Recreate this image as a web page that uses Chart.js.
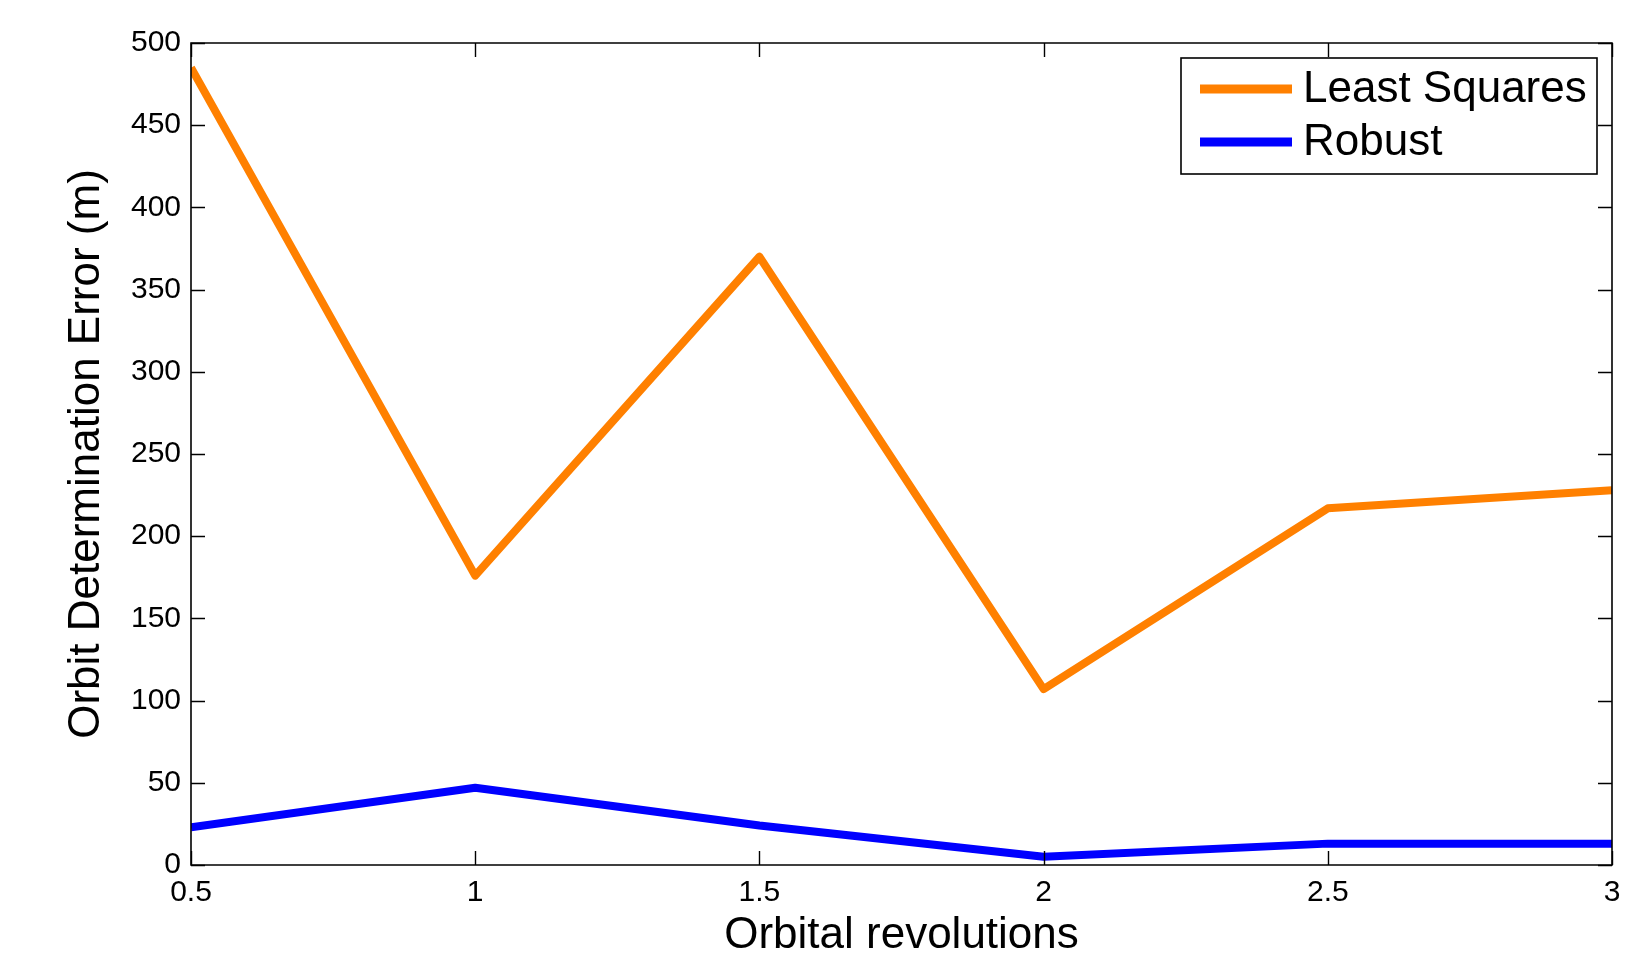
<!DOCTYPE html>
<html>
<head>
<meta charset="utf-8">
<script src="https://cdn.jsdelivr.net/npm/chart.js@4.4.1/dist/chart.umd.min.js"></script>
<style>
html,body{margin:0;padding:0;background:#fff;}
canvas{display:block;}
</style>
</head>
<body>
<canvas id="c" width="1627" height="953"></canvas>
<script>
const revolutions = [0.5, 1, 1.5, 2, 2.5, 3];
const leastSquares = [485, 176, 370, 107, 217, 228];
const robust = [23, 47, 24, 5, 13, 13];
const xTicks = [0.5, 1, 1.5, 2, 2.5, 3];
const yTicks = [0, 50, 100, 150, 200, 250, 300, 350, 400, 450, 500];
const seriesNames = ['Least Squares', 'Robust'];
const xTitle = 'Orbital revolutions';
const yTitle = 'Orbit Determination Error (m)';

const FONT = '"Liberation Sans", Arial, Helvetica, sans-serif';

const toPts = (ys) => revolutions.map((x, i) => ({x: x, y: ys[i]}));

const framePlugin = {
  id: 'frame',
  afterDatasetsDraw(chart) {
    const {ctx, chartArea: a, scales} = chart;
    ctx.save();
    ctx.strokeStyle = '#000';
    ctx.lineWidth = 1.6;
    ctx.beginPath();
    ctx.rect(a.left, a.top, a.right - a.left, a.bottom - a.top);
    ctx.stroke();
    const tl = 14;
    ctx.lineWidth = 1.4;
    ctx.beginPath();
    xTicks.forEach(v => {
      const px = Math.round(scales.x.getPixelForValue(v)) + 0.5;
      ctx.moveTo(px, a.bottom); ctx.lineTo(px, a.bottom - tl);
      ctx.moveTo(px, a.top); ctx.lineTo(px, a.top + tl);
    });
    yTicks.forEach(v => {
      const py = Math.round(scales.y.getPixelForValue(v)) + 0.5;
      ctx.moveTo(a.left, py); ctx.lineTo(a.left + tl, py);
      ctx.moveTo(a.right, py); ctx.lineTo(a.right - tl, py);
    });
    ctx.stroke();
    ctx.restore();
  },
  afterDraw(chart) {
    const {ctx, chartArea: a} = chart;
    const w = 416, h = 116;
    const bx = a.right - 15 - w, by = a.top + 15;
    ctx.save();
    ctx.fillStyle = '#fff';
    ctx.fillRect(bx, by, w, h);
    ctx.strokeStyle = '#000';
    ctx.lineWidth = 1.6;
    ctx.strokeRect(bx, by, w, h);
    const rows = [by + 31, by + 84];
    chart.data.datasets.forEach((ds, i) => {
      ctx.strokeStyle = ds.borderColor;
      ctx.lineWidth = 9;
      ctx.lineCap = 'butt';
      ctx.beginPath();
      ctx.moveTo(bx + 19, rows[i]);
      ctx.lineTo(bx + 111, rows[i]);
      ctx.stroke();
      ctx.fillStyle = '#000';
      ctx.font = '44px ' + FONT;
      ctx.textBaseline = 'middle';
      ctx.textAlign = 'left';
      ctx.fillText(ds.label, bx + 122, rows[i] + 1);
    });
    ctx.restore();
  }
};

new Chart(document.getElementById('c'), {
  type: 'line',
  data: {
    datasets: [
      {label: seriesNames[0], data: toPts(leastSquares), borderColor: '#FF8000', borderWidth: 8,
       pointRadius: 0, tension: 0, borderJoinStyle: 'round', clip: 0, fill: false},
      {label: seriesNames[1], data: toPts(robust), borderColor: '#0000FF', borderWidth: 8,
       pointRadius: 0, tension: 0, borderJoinStyle: 'round', clip: 0, fill: false}
    ]
  },
  options: {
    responsive: false,
    animation: false,
    devicePixelRatio: 1,
    layout: {padding: {top: 43, right: 15, left: 0, bottom: 0}},
    plugins: {legend: {display: false}, tooltip: {enabled: false}},
    scales: {
      x: {
        type: 'linear', min: 0.5, max: 3,
        afterBuildTicks: (s) => { s.ticks = xTicks.map(v => ({value: v})); },
        ticks: {color: '#000', font: {family: FONT, size: 30}, padding: 10, maxRotation: 0, autoSkip: false,
                callback: (v) => String(v)},
        grid: {display: false, drawTicks: false},
        border: {display: false},
        title: {display: true, text: xTitle, color: '#000', font: {family: FONT, size: 44, lineHeight: 0.78}, padding: {top: 0, bottom: 0}},
        afterFit: (s) => { s.height = 88; s.paddingLeft = 0; s.paddingRight = 0; }
      },
      y: {
        type: 'linear', min: 0, max: 500,
        afterBuildTicks: (s) => { s.ticks = yTicks.map(v => ({value: v})); },
        ticks: {color: '#000', font: {family: FONT, size: 30}, padding: 10, autoSkip: false,
                callback: (v) => String(v)},
        grid: {display: false, drawTicks: false},
        border: {display: false},
        title: {display: true, text: yTitle, color: '#000', font: {family: FONT, size: 44, lineHeight: 1}, padding: {top: 65, bottom: 0}},
        afterFit: (s) => { s.width = 191; s.paddingTop = 0; s.paddingBottom = 0; }
      }
    }
  },
  plugins: [framePlugin]
});
</script>
</body>
</html>
